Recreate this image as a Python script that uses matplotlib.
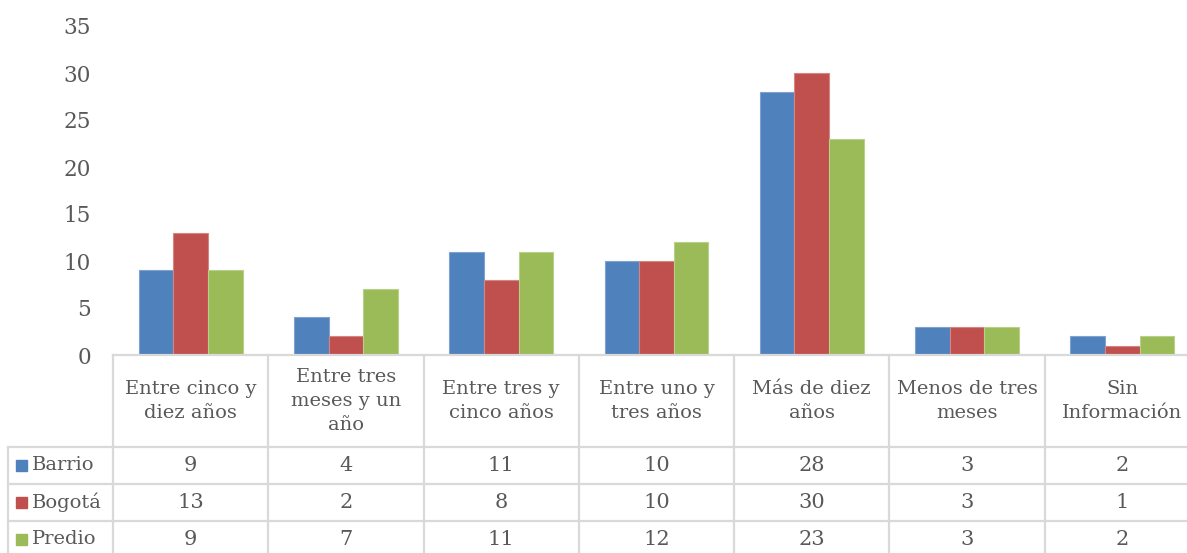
import matplotlib
matplotlib.use("Agg")
import matplotlib.pyplot as plt
from matplotlib.lines import Line2D
from matplotlib.patches import Rectangle
from matplotlib.transforms import blended_transform_factory
import numpy as np

categories = ["Entre cinco y\ndiez años", "Entre tres\nmeses y un\naño", "Entre tres y\ncinco años",
              "Entre uno y\ntres años", "Más de diez\naños", "Menos de tres\nmeses", "Sin\nInformación"]
series_names = ["Barrio", "Bogotá", "Predio"]
barrio = [9, 4, 11, 10, 28, 3, 2]
bogota = [13, 2, 8, 10, 30, 3, 1]
predio = [9, 7, 11, 12, 23, 3, 2]
yticks = [0, 5, 10, 15, 20, 25, 30, 35]

colors = ["#4F81BD", "#C0504D", "#9BBB59"]
edges = ["#7FA2CF", "#D48683", "#B9D08A"]
txt = "#595959"
grid = "#D9D9D9"
FONT = "DejaVu Serif"

W, H = 1187, 553
fig = plt.figure(figsize=(W / 100, H / 100), dpi=100)

def fy(py):
    return 1 - py / H

def fx(px):
    return px / W

x_left, x_right = 113, 1200
y_top, y_bot = 26, 355
ax = fig.add_axes([fx(x_left), fy(y_bot), fx(x_right) - fx(x_left), fy(y_top) - fy(y_bot)])
ax.set_xlim(-0.5, len(categories) - 0.5)
ax.set_ylim(0, 35)
for s in ax.spines.values():
    s.set_visible(False)
ax.set_xticks([])
ax.set_yticks(yticks)
ax.tick_params(axis="y", length=0, pad=16, labelsize=15.5, labelcolor=txt)
for lab in ax.get_yticklabels():
    lab.set_fontfamily(FONT)

x = np.arange(len(categories))
bw = 0.223
for i, (vals, c, e) in enumerate(zip([barrio, bogota, predio], colors, edges)):
    ax.bar(x + (i - 1) * bw, vals, width=bw, color=c, edgecolor=e, linewidth=0.8, zorder=2)

# table
bt = blended_transform_factory(ax.transData, fig.transFigure)
lw = 1.6
def hline(x0px, y):
    fig.add_artist(Line2D([fx(x0px), 1.02], [fy(y), fy(y)], color=grid, lw=lw, transform=fig.transFigure, clip_on=False))

hline(x_left, 355)
for yy in [447, 484, 521]:
    hline(8, yy)
fig.add_artist(Line2D([fx(8), fx(8)], [fy(447), fy(560)], color=grid, lw=lw, transform=fig.transFigure))
for b in np.arange(len(categories) + 1) - 0.5:
    fig.add_artist(Line2D([b, b], [fy(355), fy(560)], color=grid, lw=lw, transform=bt, clip_on=False))

for xi, cat in zip(x, categories):
    fig.text(xi, fy(401), cat, transform=bt, ha="center", va="center", multialignment="center",
             fontsize=14, color=txt, family=FONT, linespacing=1.4)

row_y = [465.5, 502.5, 539.5]
for ry, name, vals, c in zip(row_y, series_names, [barrio, bogota, predio], colors):
    fig.add_artist(Rectangle((fx(16), fy(ry + 5.5)), fx(11), 11 / H, color=c, transform=fig.transFigure))
    fig.text(fx(32), fy(ry), name, ha="left", va="center", fontsize=14, color=txt, family=FONT)
    for xi, v in zip(x, vals):
        fig.text(xi, fy(ry), str(v), transform=bt, ha="center", va="center", fontsize=15, color=txt, family=FONT)

fig.savefig("out.png", dpi=100)
